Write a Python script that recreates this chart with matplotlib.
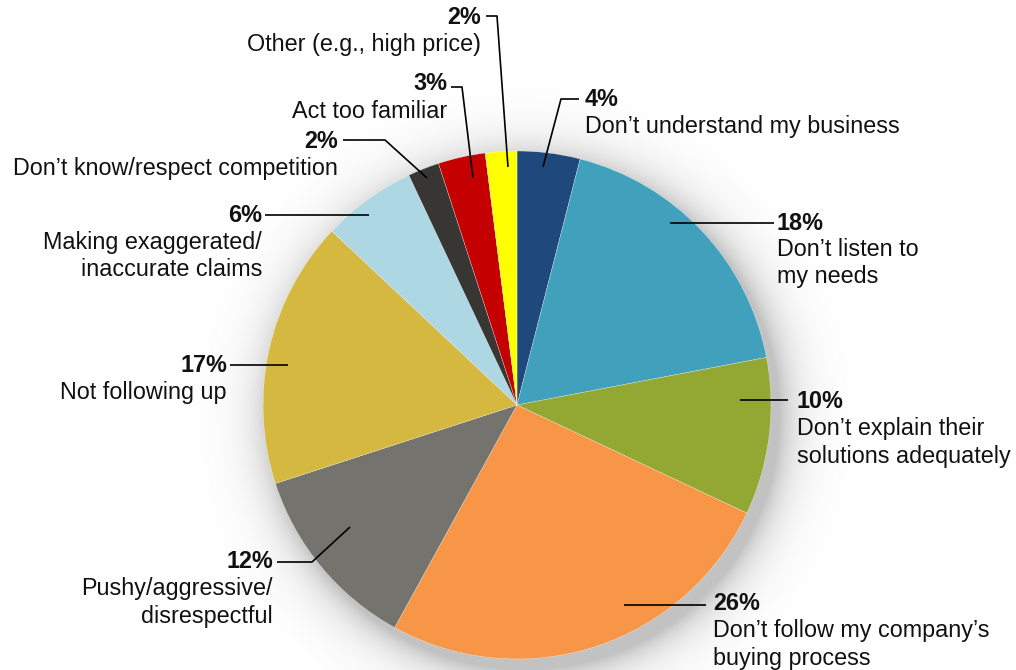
import numpy as np
import matplotlib
matplotlib.use("Agg")
from matplotlib import pyplot as plt

# Reasons buyers give for being put off by sellers
labels = [
    "Don’t understand my business",
    "Don’t listen to\nmy needs",
    "Don’t explain their\nsolutions adequately",
    "Don’t follow my company’s\nbuying process",
    "Pushy/aggressive/\ndisrespectful",
    "Not following up",
    "Making exaggerated/\ninaccurate claims",
    "Don’t know/respect competition",
    "Act too familiar",
    "Other (e.g., high price)",
]
shares = [4, 18, 10, 26, 12, 17, 6, 2, 3, 2]
colors = ["#1F497D", "#41A1BD", "#93A733", "#F79646", "#74736E",
          "#D5B83F", "#ADD8E3", "#373633", "#C40000", "#FFFF00"]

W, H = 1016, 670
cx, cy, rad = 517, 405, 254

# label layout in pixel space: text x, alignment, % line y, leader path
layout = [
    (585, "left", 100, [(543, 167), (561, 99), (579, 99)]),
    (777, "left", 223, [(670, 223), (774, 223)]),
    (797, "left", 402, [(740, 400), (788, 400)]),
    (713, "left", 604, [(624, 605), (706, 605)]),
    (273, "right", 562, [(350, 527), (312, 562), (277, 562)]),
    (227, "right", 365, [(288, 365), (230, 365)]),
    (262, "right", 215, [(369, 215), (265, 215)]),
    (338, "right", 142, [(427, 178), (385, 140), (343, 140)]),
    (447, "right", 84, [(473, 178), (462, 87), (451, 87)]),
    (481, "right", 17, [(508, 167), (497, 16), (486, 16)]),
]


def px(x, y):
    return x, H - y


plt.rcParams["font.family"] = ["Liberation Sans", "DejaVu Sans"]
fig = plt.figure(figsize=(W / 100, H / 100), dpi=100)
ax = fig.add_axes([0, 0, 1, 1])

# soft drop shadow under the pie (rows run top to bottom)
yy, xx = np.mgrid[0:H, 0:W]
d = np.hypot(xx - (cx + 8), yy - (cy + 10))
alpha = 0.24 * np.exp(-np.clip(d - rad, 0, None) / 20.0)
shadow = np.zeros((H, W, 4))
shadow[..., 3] = alpha
ax.imshow(shadow, extent=(0, W, 0, H), origin="upper", zorder=0,
          interpolation="bilinear")

ax.pie(shares, colors=colors, startangle=90, counterclock=False,
       center=px(cx, cy), radius=rad, frame=True,
       wedgeprops=dict(edgecolor="white", linewidth=0.2))
ax.set_xlim(0, W)
ax.set_ylim(0, H)
ax.set_aspect("equal")
ax.axis("off")

for lab, val, (tx, ha, ty, path) in zip(labels, shares, layout):
    xs, ys = zip(*[px(*p) for p in path])
    ax.plot(xs, ys, color="black", lw=1.2, zorder=5, solid_capstyle="butt")
    ax.text(*px(tx, ty), f"{val}%", ha=ha, va="center", fontsize=16.8,
            fontweight="bold", color="#111111", zorder=6)
    for i, line in enumerate(lab.split("\n")):
        ax.text(*px(tx, ty + 27 + i * 27), line, ha=ha, va="center",
                fontsize=16.8, color="#111111", zorder=6)

fig.savefig("out.png", dpi=100)
